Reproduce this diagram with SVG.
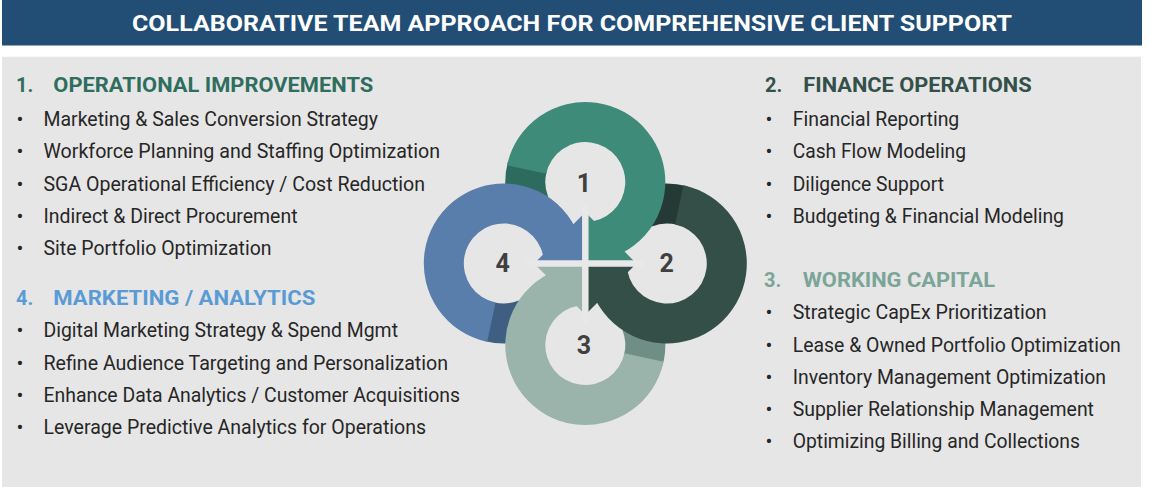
<svg xmlns="http://www.w3.org/2000/svg" width="1150" height="487" viewBox="0 0 1150 487">
<style>
.t{font-family:Roboto,"Liberation Sans",sans-serif;font-size:20.5px;fill:#262626}
.b{font-family:Roboto,"Liberation Sans",sans-serif;font-size:20.5px;fill:#262626}
.h{font-family:Roboto,"Liberation Sans",sans-serif;font-size:20px;font-weight:bold}
.n{font-family:Roboto,"Liberation Sans",sans-serif;font-size:25px;font-weight:bold;fill:#404040;text-anchor:middle}
.h1{fill:#2F6E5E}.h2{fill:#34504A}.h3{fill:#7BA598}.h4{fill:#5B9BD5}
</style>
<defs>
<path id="tail" d="M511.13,211.97 A80,80 0 0 1 508.03,161.3 L546.66,171.65 A40,40 0 0 0 548.21,196.98 Z"/>
<path id="body" d="M507.05,165.37 A80,80 0 1 1 585.3,262 L585.3,222 A40,40 0 1 0 546.18,173.68 Z M585.3,212.3 L636.5,263.5 L585.3,263.5 Z"/>
</defs>
<rect width="1150" height="487" fill="#FFFFFF"/>
<g id="header">
<rect x="2" y="0" width="1140" height="45.5" fill="#224E76"/>
<text x="572" y="30.5" text-anchor="middle" textLength="880" lengthAdjust="spacingAndGlyphs" style="font-family:Roboto,'Liberation Sans',sans-serif;font-size:22px;font-weight:bold;fill:#FFFFFF">COLLABORATIVE TEAM APPROACH FOR COMPREHENSIVE CLIENT SUPPORT</text>
</g>
<rect id="panel" x="2" y="56.7" width="1139" height="431" fill="#E6E6E6"/>

<g id="section-1">
<text class="h h1" x="16" y="92.3">1.</text>
<text class="h h1" x="53.3" y="92.3" textLength="320" lengthAdjust="spacingAndGlyphs">OPERATIONAL IMPROVEMENTS</text>
<text class="b" x="16.5" y="125.7">•</text><text class="t" x="43.5" y="125.7" textLength="334.5" lengthAdjust="spacingAndGlyphs">Marketing &amp; Sales Conversion Strategy</text>
<text class="b" x="16.5" y="158">•</text><text class="t" x="43.5" y="158" textLength="396.5" lengthAdjust="spacingAndGlyphs">Workforce Planning and Staffing Optimization</text>
<text class="b" x="16.5" y="190.5">•</text><text class="t" x="43.5" y="190.5" textLength="381.5" lengthAdjust="spacingAndGlyphs">SGA Operational Efficiency / Cost Reduction</text>
<text class="b" x="16.5" y="223">•</text><text class="t" x="43.5" y="223" textLength="254" lengthAdjust="spacingAndGlyphs">Indirect &amp; Direct Procurement</text>
<text class="b" x="16.5" y="255.3">•</text><text class="t" x="43.5" y="255.3" textLength="228" lengthAdjust="spacingAndGlyphs">Site Portfolio Optimization</text>
</g>

<g id="section-4">
<text class="h h4" x="16" y="305">4.</text>
<text class="h h4" x="53.3" y="305" textLength="262" lengthAdjust="spacingAndGlyphs">MARKETING / ANALYTICS</text>
<text class="b" x="16.5" y="337.3">•</text><text class="t" x="43.5" y="337.3" textLength="354.5" lengthAdjust="spacingAndGlyphs">Digital Marketing Strategy &amp; Spend Mgmt</text>
<text class="b" x="16.5" y="369.5">•</text><text class="t" x="43.5" y="369.5" textLength="404.5" lengthAdjust="spacingAndGlyphs">Refine Audience Targeting and Personalization</text>
<text class="b" x="16.5" y="401.7">•</text><text class="t" x="43.5" y="401.7" textLength="416.5" lengthAdjust="spacingAndGlyphs">Enhance Data Analytics / Customer Acquisitions</text>
<text class="b" x="16.5" y="434">•</text><text class="t" x="43.5" y="434" textLength="382.5" lengthAdjust="spacingAndGlyphs">Leverage Predictive Analytics for Operations</text>
</g>

<g id="section-2">
<text class="h h2" x="765" y="92.3">2.</text>
<text class="h h2" x="803.3" y="92.3" textLength="228.4" lengthAdjust="spacingAndGlyphs">FINANCE OPERATIONS</text>
<text class="b" x="765.5" y="125.7">•</text><text class="t" x="792.7" y="125.7" textLength="166.6" lengthAdjust="spacingAndGlyphs">Financial Reporting</text>
<text class="b" x="765.5" y="158">•</text><text class="t" x="792.7" y="158" textLength="173.3" lengthAdjust="spacingAndGlyphs">Cash Flow Modeling</text>
<text class="b" x="765.5" y="190.5">•</text><text class="t" x="792.7" y="190.5" textLength="151.3" lengthAdjust="spacingAndGlyphs">Diligence Support</text>
<text class="b" x="765.5" y="223">•</text><text class="t" x="792.7" y="223" textLength="271.3" lengthAdjust="spacingAndGlyphs">Budgeting &amp; Financial Modeling</text>
</g>

<g id="section-3">
<text class="h h3" x="764" y="286.7">3.</text>
<text class="h h3" x="802.7" y="286.7" textLength="192.3" lengthAdjust="spacingAndGlyphs">WORKING CAPITAL</text>
<text class="b" x="765.5" y="319.3">•</text><text class="t" x="792.7" y="319.3" textLength="254" lengthAdjust="spacingAndGlyphs">Strategic CapEx Prioritization</text>
<text class="b" x="765.5" y="351.7">•</text><text class="t" x="792.7" y="351.7" textLength="328" lengthAdjust="spacingAndGlyphs">Lease &amp; Owned Portfolio Optimization</text>
<text class="b" x="765.5" y="383.7">•</text><text class="t" x="792.7" y="383.7" textLength="313.3" lengthAdjust="spacingAndGlyphs">Inventory Management Optimization</text>
<text class="b" x="765.5" y="416">•</text><text class="t" x="792.7" y="416" textLength="301.3" lengthAdjust="spacingAndGlyphs">Supplier Relationship Management</text>
<text class="b" x="765.5" y="448.3">•</text><text class="t" x="792.7" y="448.3" textLength="287.3" lengthAdjust="spacingAndGlyphs">Optimizing Billing and Collections</text>
</g>

<g id="ring-tails">
<use href="#tail" fill="#2C6B5D"/>
<use href="#tail" fill="#263A35" transform="rotate(90 585.3 263.5)"/>
<use href="#tail" fill="#6F8F86" transform="rotate(180 585.3 263.5)"/>
<use href="#tail" fill="#3F5F82" transform="rotate(270 585.3 263.5)"/>
</g>
<g id="ring-1">
<use href="#body" fill="#3E8B7A"/>
<text class="n" x="584" y="191.7">1</text>
</g>
<g id="ring-2">
<use href="#body" fill="#344F48" transform="rotate(90 585.3 263.5)"/>
<text class="n" x="666.7" y="271.7">2</text>
</g>
<g id="ring-3">
<use href="#body" fill="#9AB3AB" transform="rotate(180 585.3 263.5)"/>
<text class="n" x="584" y="354">3</text>
</g>
<g id="ring-4">
<use href="#body" fill="#5A7EAB" transform="rotate(270 585.3 263.5)"/>
<text class="n" x="502.7" y="271.7">4</text>
</g>
<g id="connectors">
<line x1="585.3" y1="204" x2="585.3" y2="323" stroke="#E8E8E8" stroke-width="6.5"/>
<line x1="526" y1="263.5" x2="645" y2="263.5" stroke="#E8E8E8" stroke-width="6.5"/>
</g>
</svg>
